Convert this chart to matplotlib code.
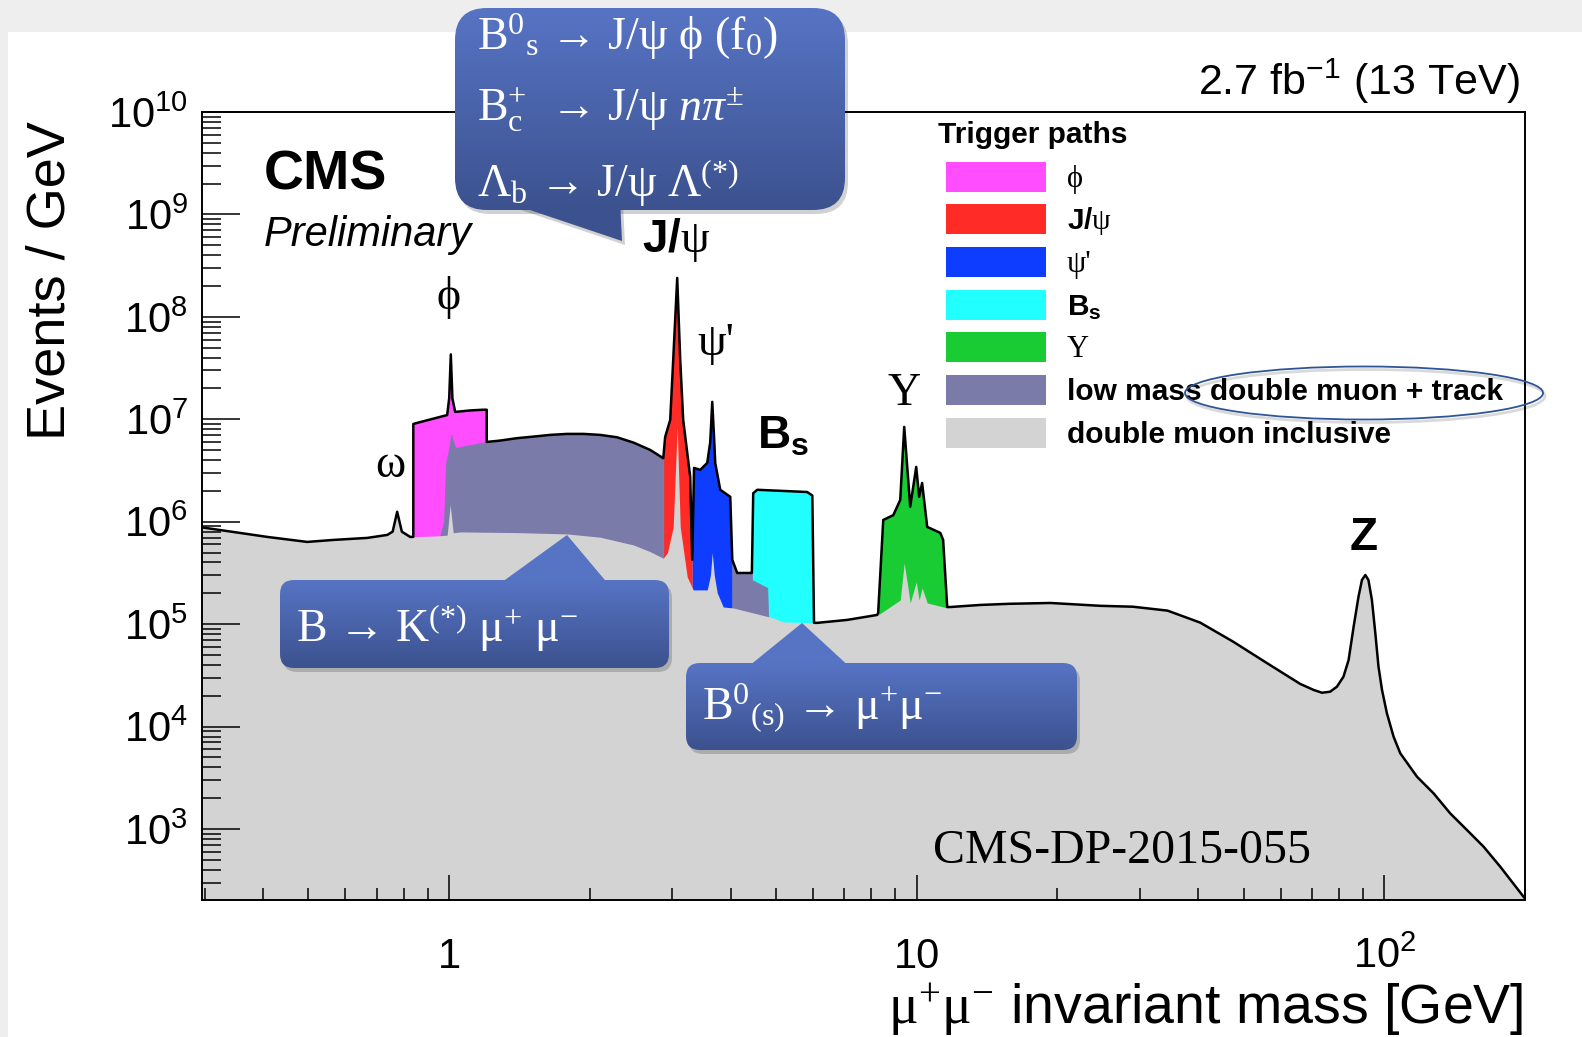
import numpy as np
import matplotlib
matplotlib.use("Agg")
import matplotlib.pyplot as plt
from matplotlib.patches import FancyBboxPatch, Polygon, Rectangle, Ellipse
from matplotlib.ticker import LogLocator, NullFormatter
from matplotlib.colors import to_rgb

plt.rcParams['font.family'] = ['Liberation Sans', 'DejaVu Sans']
plt.rcParams['mathtext.fontset'] = 'custom'
plt.rcParams['mathtext.rm'] = 'Liberation Serif'
plt.rcParams['mathtext.it'] = 'Liberation Serif:italic'
plt.rcParams['mathtext.bf'] = 'Liberation Sans:bold'
plt.rcParams['mathtext.sf'] = 'Liberation Sans'
plt.rcParams['axes.linewidth'] = 1.4

# ---------------- data ----------------
# total dimuon spectrum (all trigger paths, black outline): mass [GeV], events / GeV
mass_total = [0.296, 0.345, 0.408, 0.497, 0.565, 0.668, 0.737, 0.757, 0.774, 0.792, 0.825,
              0.838, 0.838, 0.854, 0.990, 1.000, 1.008, 1.016, 1.030, 1.109, 1.182, 1.203,
              1.203, 1.286, 1.396, 1.515, 1.644, 1.786, 1.938, 2.104, 2.284, 2.479, 2.691, 2.870,
              2.897, 2.970, 3.014, 3.074, 3.120, 3.166, 3.277, 3.310,
              3.340, 3.443, 3.564, 3.617, 3.653, 3.690, 3.707, 3.800, 3.992, 4.032,
              4.131, 4.405, 4.440,
              4.470, 4.560, 5.830, 5.980, 6.030,
              6.130, 7.100, 8.230,
              8.270, 8.480, 8.910, 9.220, 9.403, 9.685, 9.975, 10.12, 10.27, 10.53, 11.23, 11.39, 11.62,
              11.80, 13.68, 15.78, 19.31, 24.7, 29.0, 34.4, 40.4, 47.5, 56.2, 66.1,
              70.6, 73.6, 76.6, 79.2, 81.8, 83.9, 86.0, 88.1, 89.6, 91.1, 92.5, 94.1, 95.7, 97.2, 98.9,
              101.3, 104.7, 108.2, 117.5, 127.5, 138.4, 150.3, 163.1, 177.1, 198.6, 200.0]
events_total = [8.8e5, 7.95e5, 7.11e5, 6.35e5, 6.64e5, 6.95e5, 7.43e5, 8.0e5, 1.25e6, 8.0e5, 7.11e5,
                7.11e5, 9.0e6, 9.22e6, 1.10e7, 1.6e7, 4.3e7, 1.6e7, 1.18e7, 1.22e7, 1.24e7, 1.24e7,
                6.01e6, 6.20e6, 6.54e6, 6.78e6, 7.04e6, 7.20e6, 7.20e6, 7.04e6, 6.68e6, 5.92e6, 5.02e6, 4.17e6,
                6.73e6, 9.87e6, 3.8e7, 2.4e8, 3.8e7, 9.87e6, 2.74e6, 4.24e5,
                3.35e6, 3.21e6, 3.75e6, 6.0e6, 1.48e7, 6.0e6, 3.75e6, 2.05e6, 1.75e6, 4.24e5,
                3.16e5, 3.16e5, 3.16e5,
                1.90e6, 2.05e6, 1.95e6, 1.80e6, 1.03e5,
                1.03e5, 1.10e5, 1.23e5,
                1.29e5, 1.04e6, 1.16e6, 1.63e6, 8.43e6, 1.40e6, 3.43e6, 1.75e6, 2.39e6, 8.9e5, 7.78e5, 6.64e5, 1.47e5,
                1.47e5, 1.54e5, 1.58e5, 1.61e5, 1.51e5, 1.48e5, 1.355e5, 1.035e5, 6.75e4, 4.15e4, 2.61e4,
                2.28e4, 2.14e4, 2.19e4, 2.45e4, 3.07e4, 4.47e4, 9.45e4, 1.86e5, 2.70e5, 3.02e5, 2.70e5, 1.72e5,
                8.15e4, 3.85e4, 2.28e4,
                1.35e4, 7.97e3, 5.49e3, 3.24e3, 2.23e3, 1.42e3, 977, 672, 428, 218, 210]

# mass windows [GeV] in which each trigger path forms the top of the spectrum
phi_window = (0.838, 1.203)
jpsi_window = (2.870, 3.310)
psi2s_window = (3.310, 4.032)
bs_window = (4.440, 6.030)
ups_window = (8.270, 11.62)
lowmass_windows = [(1.203, 2.870), (4.032, 4.440)]

# low mass double muon + track, where it lies under other paths
lowmass_phi_mass = [0.957, 0.975, 0.985, 1.000, 1.010, 1.030, 1.056, 1.203]
lowmass_phi_events = [7.3e5, 1.0e6, 3.75e6, 5.2e6, 7.04e6, 5.26e6, 5.37e6, 6.01e6]
lowmass_bs_mass = [4.440, 4.789, 4.810]
lowmass_bs_events = [2.7e5, 2.26e5, 1.15e5]

# double muon inclusive, under the other trigger paths
incl_mass = [0.825, 0.943, 0.990, 1.005, 1.020, 1.056, 1.396, 1.786, 2.104, 2.479, 2.691, 2.870,
             2.930, 3.014, 3.074, 3.120, 3.229, 3.326, 3.564, 3.620, 3.653, 3.690,
             3.744, 3.856, 4.051, 4.932, 5.182, 6.030, 6.130, 8.230, 8.270, 9.220,
             9.403, 9.685, 9.975, 10.12, 10.27, 10.53, 11.62, 11.80]
incl_events = [7.11e5, 7.27e5, 7.4e5, 1.46e6, 7.8e5, 7.95e5, 7.83e5, 7.60e5, 7.06e5, 5.93e5, 5.10e5, 4.40e5,
               5.0e5, 8.9e5, 8.43e6, 8.9e5, 2.89e5, 2.16e5, 2.16e5, 3.0e5, 4.96e5, 3.0e5,
               2.02e5, 1.47e5, 1.44e5, 1.15e5, 1.05e5, 1.03e5, 1.03e5, 1.23e5, 1.23e5, 1.72e5,
               3.96e5, 1.61e5, 2.58e5, 1.72e5, 2.26e5, 1.61e5, 1.44e5, 1.47e5]

legend_labels = ['ϕ', r'$\mathbf{J/}\mathrm{ψ}$', "ψ'", r'$\mathbf{B_{s}}$', 'Υ',
                 'low mass double muon + track', 'double muon inclusive']
peak_labels = ['ω', 'ϕ', r'$\mathbf{J/}\mathrm{ψ}$', "ψ'", r'$\mathbf{B_{s}}$', 'Υ', 'Z']
xtick_values = [1, 10, 100]
xtick_labels = ['1', '10', r'$\mathsf{10^{2}}$']
ytick_exponents = [3, 4, 5, 6, 7, 8, 9, 10]

GRAY = '#d3d3d3'; MAGENTA = '#ff4dff'; RED = '#ff2b26'; BLUE = '#0f3dff'
CYAN = '#22ffff'; GREEN = '#19cc33'; PURPLE = '#7b7ba9'
SERIF = ['Liberation Serif', 'DejaVu Serif']

# ---------------- figure ----------------
W, H = 1582, 1037
fig = plt.figure(figsize=(W / 100, H / 100), dpi=100)
fig.patch.set_facecolor('#eeeeee')

ax_bg = fig.add_axes([0, 0, 1, 1], zorder=-5)
ax_bg.set_xlim(0, W); ax_bg.set_ylim(H, 0); ax_bg.axis('off')
ax_bg.add_patch(Rectangle((8, 32), W - 8, H - 32, facecolor='white', edgecolor='none'))

ax = fig.add_axes([202 / W, 1 - 900 / H, 1323 / W, 788 / H], zorder=0)
ax.set_xscale('log'); ax.set_yscale('log')

m = np.array(mass_total); v = np.array(events_total)
floor = 1.0

def inside(w):
    return (m >= w[0]) & (m <= w[1])

ax.fill_between(m, v, floor, color=GRAY, lw=0, zorder=1.0)
for w, c in [(phi_window, MAGENTA), (jpsi_window, RED), (psi2s_window, BLUE),
             (bs_window, CYAN), (ups_window, GREEN)]:
    ax.fill_between(m, v, floor, where=inside(w), color=c, lw=0, zorder=1.1)
for w in lowmass_windows:
    ax.fill_between(m, v, floor, where=inside(w), facecolor=PURPLE, edgecolor=PURPLE,
                    lw=0.6, zorder=1.2)
ax.fill_between(lowmass_phi_mass, lowmass_phi_events, floor, facecolor=PURPLE,
                edgecolor=PURPLE, lw=0.6, zorder=1.2)
ax.fill_between(lowmass_bs_mass, lowmass_bs_events, floor, facecolor=PURPLE,
                edgecolor=PURPLE, lw=0.6, zorder=1.2)
ax.fill_between(incl_mass, incl_events, floor, color=GRAY, lw=0, zorder=1.3)
ax.plot(m, v, color='black', lw=1.8, zorder=1.4, solid_joinstyle='round')

ax.set_xlim(0.296, 200)
ax.set_ylim(10 ** 2.307, 1e10)

ax.set_xticks(xtick_values, labels=[''] * len(xtick_values))
ax.xaxis.set_minor_locator(LogLocator(base=10, subs=np.arange(2, 10), numticks=30))
ax.xaxis.set_minor_formatter(NullFormatter())
ax.set_yticks([10.0 ** k for k in ytick_exponents],
              labels=[r'$\mathsf{10^{%d}}$' % k for k in ytick_exponents])
ax.yaxis.set_minor_locator(LogLocator(base=10, subs=np.arange(2, 10), numticks=30))
ax.yaxis.set_minor_formatter(NullFormatter())
ax.tick_params(axis='y', which='major', direction='in', length=27, width=1.1,
               labelsize=30, pad=10, right=False)
ax.tick_params(axis='y', which='minor', direction='in', length=13.7, width=1.1, right=False)
ax.tick_params(axis='x', which='major', direction='in', length=18, width=1.1, top=False)
ax.tick_params(axis='x', which='minor', direction='in', length=8.6, width=1.1, top=False)
for xv, lbl in zip(xtick_values, xtick_labels):
    ax.text(xv, (900 - 968) / 788, lbl, transform=ax.get_xaxis_transform(),
            ha='center', va='baseline', fontsize=30)

# ---------------- overlay in pixel coordinates ----------------
ov = fig.add_axes([0, 0, 1, 1], zorder=10)
ov.set_xlim(0, W); ov.set_ylim(H, 0); ov.set_autoscale_on(False); ov.axis('off')
ov.patch.set_alpha(0)

ov.text(51, 281, 'Events / GeV', rotation=90, fontsize=39, ha='center', va='center')
ov.text(1523, 1024, r'$\mathrm{μ^{+}μ^{-}}$ invariant mass [GeV]', fontsize=40,
        ha='right', va='baseline')
ov.text(1520, 95, r'2.7 $\mathsf{fb^{-1}}$ (13 TeV)', fontsize=31, ha='right', va='baseline')
ov.text(264, 189, 'CMS', fontsize=40, fontweight='bold', ha='left', va='baseline')
ov.text(264, 246, 'Preliminary', fontsize=30, style='italic', ha='left', va='baseline')
ov.text(933, 863, 'CMS-DP-2015-055', family=SERIF, fontsize=34.5, ha='left', va='baseline')

peak_pos = [(390, 477), (449, 309), (676, 252), (716, 355), (783, 449), (904, 405), (1364, 550)]
peak_serif = [True, True, False, True, False, True, False]
for lbl, (px, py), sf in zip(peak_labels, peak_pos, peak_serif):
    if sf:
        ov.text(px, py, lbl, family=SERIF, fontsize=33, ha='center', va='baseline')
    else:
        ov.text(px, py, lbl, fontsize=33, fontweight='bold', ha='center', va='baseline')

# legend
ov.text(938, 143, 'Trigger paths', fontsize=21.5, fontweight='bold', ha='left', va='baseline')
legend_colors = [MAGENTA, RED, BLUE, CYAN, GREEN, PURPLE, GRAY]
legend_serif = [True, False, True, False, True, False, False]
for i, (lbl, col, sf) in enumerate(zip(legend_labels, legend_colors, legend_serif)):
    cy = 176.6 + 42.7 * i
    ov.add_patch(Rectangle((946, cy - 15), 100, 30, facecolor=col, edgecolor='none', zorder=2))
    if sf:
        ov.text(1067, cy + 10, lbl, family=SERIF, fontsize=22, ha='left', va='baseline')
    else:
        ov.text(1067, cy + 10, lbl, fontsize=21.5, fontweight='bold', ha='left', va='baseline')

ov.add_patch(Ellipse((1366, 396), 358, 53, facecolor='none', edgecolor=(0, 0, 0, 0.15), lw=2.0, zorder=2))
ov.add_patch(Ellipse((1364, 393), 358, 53, facecolor='none', edgecolor='#2f5597', lw=1.3, zorder=3))

# callouts
TOP = np.array(to_rgb('#5774c4')); BOT = np.array(to_rgb('#3c528f'))

def callout(box, radius, tri, lines):
    x0, y0, x1, y1 = box
    style = "round,pad=0,rounding_size=%g" % radius
    ov.add_patch(FancyBboxPatch((x0 + 3, y0 + 4), x1 - x0, y1 - y0, boxstyle=style,
                                fc=(0, 0, 0, 0.18), ec='none', zorder=1))
    ov.add_patch(Polygon([(px + 3, py + 4) for px, py in tri], closed=True,
                         fc=(0, 0, 0, 0.18), ec='none', zorder=1))
    bp = FancyBboxPatch((x0, y0), x1 - x0, y1 - y0, boxstyle=style, fc='none', ec='none', zorder=2)
    tp = Polygon(tri, closed=True, fc='none', ec='none', zorder=2)
    ov.add_patch(bp); ov.add_patch(tp)
    ys = [y0, y1] + [p[1] for p in tri]
    ymin, ymax = min(ys), max(ys)
    t = np.linspace(0, 1, 256)[:, None]
    yy = ymin + t * (ymax - ymin)
    frac = np.clip((yy - y0) / (y1 - y0), 0, 1)
    grad = TOP + (BOT - TOP) * frac[..., None]
    for p in (bp, tp):
        im = ov.imshow(grad, extent=[x0 - 2, x1 + 2, ymax, ymin], origin='upper',
                       aspect='auto', interpolation='bilinear', zorder=2)
        im.set_clip_path(p)
    for (tx, ty, s) in lines:
        ov.text(tx, ty, s, color='white', family=SERIF, fontsize=33, ha='left',
                va='baseline', zorder=4)

callout((455, 8, 845, 210), 32, [(500, 200), (620, 200), (622, 241)],
        [(477, 50, r'$\mathrm{B^{0}{}_{s}}$ → J/ψ ϕ ($\mathrm{f_{0}}$)'),
         (477, 122, r'$\mathrm{B_{c}^{+}}$  → J/ψ $\mathit{nπ}^{\pm}$'),
         (477, 197, r'$\mathrm{Λ_{b}}$ → J/ψ $\mathrm{Λ^{(*)}}$')])
callout((280, 580, 669, 668), 14, [(498, 585), (609, 585), (567, 535)],
        [(296, 642, r'B → $\mathrm{K^{(*)}}$ $\mathrm{μ^{+}}$ $\mathrm{μ^{-}}$')])
callout((686, 663, 1077, 750), 14, [(744, 670), (853, 670), (802, 623)],
        [(702, 720, r'$\mathrm{B^{0}{}_{(s)}}$ → $\mathrm{μ^{+}μ^{-}}$')])

ov.set_xlim(0, W); ov.set_ylim(H, 0)
fig.savefig('out.png', dpi=100, facecolor=fig.get_facecolor())
